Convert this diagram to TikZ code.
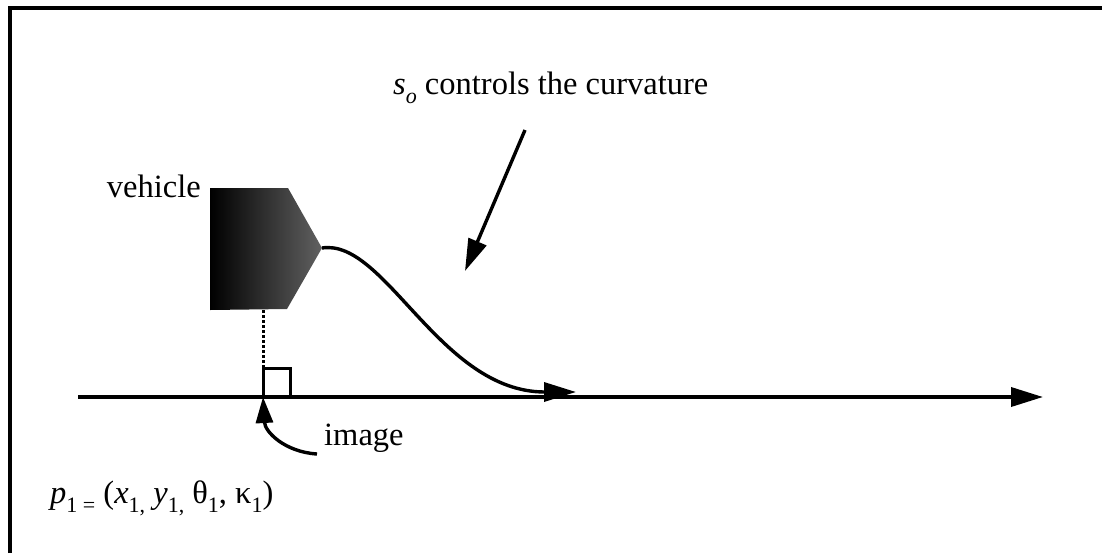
\documentclass[tikz,border=0pt]{standalone}
\usepackage{fontspec}
\setmainfont{Liberation Serif}
\usetikzlibrary{arrows.meta}
\newcommand\lsub[1]{\raisebox{-0.28em}{\fontsize{22}{22}\selectfont #1}}
\tikzset{
  lbl/.style={inner sep=0pt, font=\fontsize{32.5}{38}\selectfont},
  thick line/.style={line width=3.6pt},
  bigtip/.style={-{Triangle[length=32pt,width=19pt]}},
  smalltip/.style={-{Triangle[length=26pt,width=17pt]}},
}
\begin{document}
\begin{tikzpicture}[x=1pt,y=-1pt]
\useasboundingbox (0,0) rectangle (1102,555);
% frame
\coordinate (fl) at (10,553);
\coordinate (ftl) at (10,8);
\coordinate (ftr) at (1102,8);
\draw[line width=4pt] (fl) -- (ftl) -- (ftr);
% vehicle
\coordinate (v1) at (210,188);
\coordinate (v2) at (288,188);
\coordinate (vtip) at (322,248);
\coordinate (v4) at (287,309);
\coordinate (v5) at (210,310);
\shade[left color=black, right color=black!62] (v1) -- (v2) -- (vtip) -- (v4) -- (v5) -- cycle;
\node[lbl, anchor=base east] (veh) at (201,197) {vehicle};
% axis
\coordinate (ax0) at (78,397);
\coordinate (ax1) at (1043,397);
\draw[thick line, bigtip] (ax0) -- (ax1);
% dotted projection and right-angle mark
\coordinate (vb) at (263,310);
\coordinate (foot) at (263,397);
\coordinate (sq1) at (263,368);
\draw[line width=3pt, dotted] (vb) -- (sq1);
\draw[line width=3pt] (foot) -- (sq1) -- (290,368) -- (290,397);
% path curve
\coordinate (cend) at (576,392);
\draw[line width=3.4pt, bigtip] (vtip) .. controls (385,238) and (440,392) .. (cend);
% title and its arrow
\node[lbl, anchor=base west] (title) at (393,94) {\textit{s}\lsub{\textit{o}} controls the curvature};
\coordinate (a0) at (525,130);
\coordinate (a1) at (465,271);
\draw[line width=3.4pt, bigtip] (a0) -- (a1);
% image label
\node[lbl, anchor=base west] (img) at (324,445) {image};
\draw[line width=3.4pt, smalltip] (317,454) .. controls (285,452) and (265,432) .. (foot);
% formula
\node[lbl, anchor=base west] (form) at (50,503) {\textit{p}\lsub{1 =} (\textit{x}\lsub{1,} \textit{y}\lsub{1,} θ\lsub{1}, κ\lsub{1})};
\end{tikzpicture}
\end{document}
